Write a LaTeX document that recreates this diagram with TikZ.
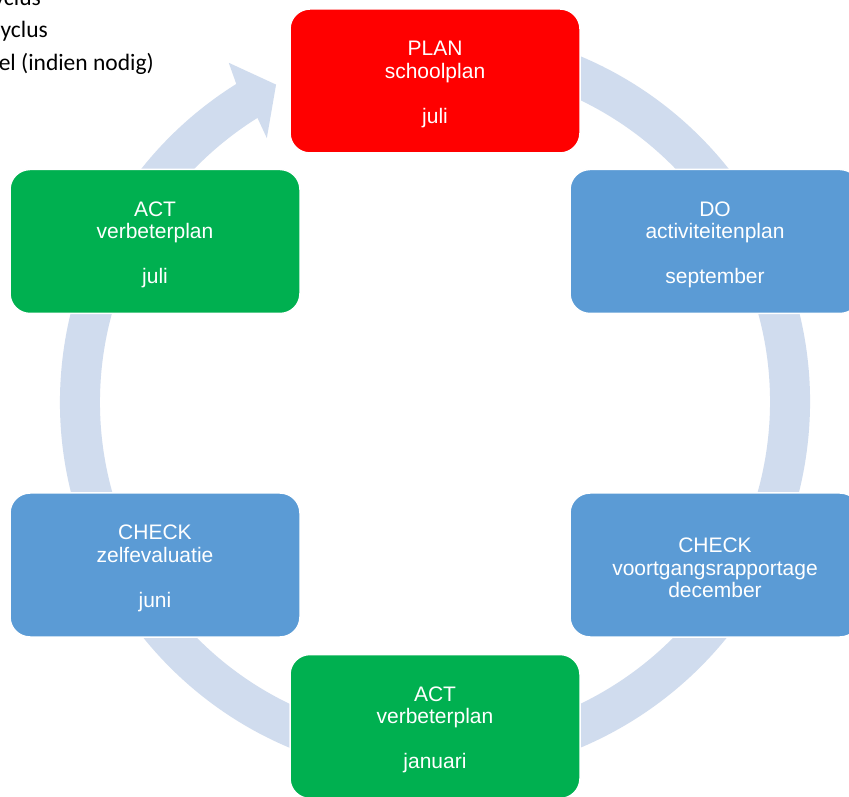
\documentclass[tikz,border=0pt]{standalone}
\usepackage{fontspec}
\setmainfont{Liberation Sans}
\newfontfamily\notefont{Carlito}
\definecolor{ringfill}{HTML}{D0DCEE}
\definecolor{boxblue}{HTML}{5B9BD5}
\definecolor{boxgreen}{HTML}{00B050}
\definecolor{boxred}{HTML}{FF0000}
\newcommand{\topgap}{\rule{0pt}{21pt}}
\tikzset{
  stagebox/.style={rounded corners=20pt, draw=white, line width=1.5pt,
    minimum width=290pt, minimum height=144pt, inner sep=0pt,
    text=white, align=center, font=\fontsize{21}{22.5}\selectfont},
  notetext/.style={anchor=base east, inner sep=0pt, text=black,
    font=\notefont\fontsize{23.5}{28}\selectfont}
}
\begin{document}
\begin{tikzpicture}[x=1pt,y=1pt]
\useasboundingbox (0,0) rectangle (849,796);
\fill[white] (0,0) rectangle (849,796);
\coordinate (C) at (435,394);
% circular arrow
\fill[ringfill] ([shift={(C)}]80:375) arc[start angle=80, end angle=-238, radius=375]
  -- ([shift={(C)}]-238.7:397) -- ([shift={(C)}]-243.4:355)
  -- ([shift={(C)}]-237.5:313) -- ([shift={(C)}]-238:335)
  arc[start angle=-238, end angle=80, radius=335] -- cycle;
% top-left text
\node[notetext] (n1) at (41,790) {cyclus};
\node[notetext] (n2) at (48,758) {cyclus};
\node[notetext] (n3) at (154,725) {el (indien nodig)};
% stage boxes
\node[stagebox, fill=boxred] (plan) at (435,715) {\topgap PLAN\\schoolplan\\[22.5pt]juli};
\node[stagebox, fill=boxblue] (do) at (715,554.5) {\topgap DO\\activiteitenplan\\[22.5pt]september};
\node[stagebox, fill=boxblue] (checkr) at (715,231) {\topgap CHECK\\voortgangsrapportage\\december};
\node[stagebox, fill=boxgreen] (actb) at (435,69.5) {\topgap ACT\\verbeterplan\\[22.5pt]januari};
\node[stagebox, fill=boxblue] (checkl) at (155,231) {\topgap CHECK\\zelfevaluatie\\[22.5pt]juni};
\node[stagebox, fill=boxgreen] (actl) at (155,554.5) {\topgap ACT\\verbeterplan\\[22.5pt]juli};
\end{tikzpicture}
\end{document}
